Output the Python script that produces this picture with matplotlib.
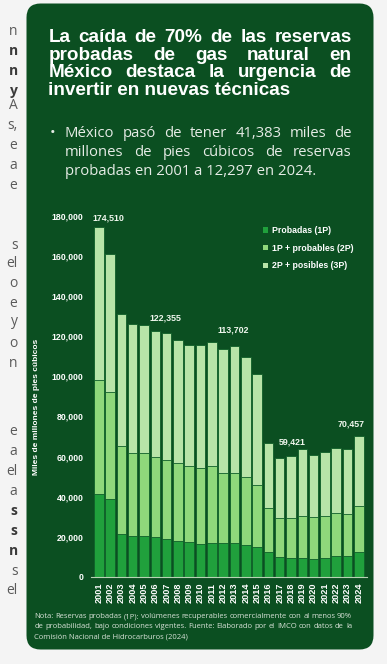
import matplotlib
matplotlib.use("Agg")
import matplotlib.pyplot as plt
from matplotlib.patches import FancyBboxPatch, Patch
from matplotlib.transforms import IdentityTransform

W, H = 387, 664

years = [str(y) for y in range(2001, 2025)]
# miles de millones de pies cubicos
p1 = [41383, 38800, 21400, 20600, 20200, 19700, 18700, 17900, 17400, 16400, 16900, 16900,
      16800, 16100, 14900, 12300, 10000, 9500, 9300, 8800, 9500, 10500, 10600, 12297]
p2 = [98000, 92000, 65400, 61900, 61600, 59700, 58200, 56700, 55400, 54300, 55400, 51900,
      51800, 49800, 45800, 34500, 29500, 29200, 30400, 30000, 30400, 32000, 31500, 35300]
p3 = [174510, 161100, 130900, 125900, 125600, 122355, 121600, 118300, 115800, 115800, 117000, 113702,
      115300, 109700, 101000, 67000, 59421, 60300, 63900, 60900, 62300, 64200, 64000, 70457]
series_names = ["Probadas (1P)", "1P + probables (2P)", "2P + posibles (3P)"]
label_years = ["2001", "2006", "2012", "2017", "2024"]
yticks = list(range(0, 180001, 20000))

title_lines = ["La caída de 70% de las reservas",
               "probadas de gas natural en",
               "México destaca la urgencia de",
               "invertir en nuevas técnicas"]
bullet_lines = ["México pasó de tener 41,383 miles de",
                "millones de pies cúbicos de reservas",
                "probadas en 2001 a 12,297 en 2024."]
note_lines = ["Nota: Reservas probadas (1P): volúmenes recuperables comercialmente con al menos 90%",
              "de probabilidad, bajo condiciones vigentes. Fuente: Elaborado por el IMCO con datos de la",
              "Comisión Nacional de Hidrocarburos (2024)"]
# bits of the neighbouring column that show at the left edge
side_bits = [(35, "n", 0), (55, "n", 1), (75, "n", 1), (95, "y", 1), (109, "A", 0), (129, "s,", 0),
             (149, "e", 0), (169, "a", 0), (189, "e", 0), (249, "s", 0), (267, "el", 0), (287, "o", 0),
             (307, "e", 0), (325, "y", 0), (347, "o", 0), (367, "n", 0), (435, "e", 0), (455, "a", 0),
             (475, "el", 0), (495, "a", 0), (515, "s", 1), (535, "s", 1), (555, "n", 1), (575, "s", 0),
             (594, "el", 0)]

BG = "#0b4f21"
C1, C2, C3 = "#20a03c", "#8fd87b", "#b8e4a8"
WHITE = "#ffffff"

fig = plt.figure(figsize=(W / 100, H / 100), dpi=100, facecolor="#f4f4f4")
renderer = fig.canvas.get_renderer()

card = FancyBboxPatch((26.5, 14.5), 347, 646, boxstyle="round,pad=0,rounding_size=14",
                      transform=IdentityTransform(), facecolor=BG, edgecolor="none", zorder=0)
fig.add_artist(card)


def fx(x):
    return x / W


def fy(y):
    return 1 - y / H


def fit_size(s, width, **kw):
    t = fig.text(0, 0, s, fontsize=10, **kw)
    w = t.get_window_extent(renderer).width
    t.remove()
    return 10 * width / w


def justified(words_line, x0, x1, y, justify=True, **kw):
    words = words_line.split(" ")
    if not justify:
        fig.text(fx(x0), fy(y), words_line, va="baseline", ha="left", **kw)
        return
    texts = [fig.text(0, fy(y), w, va="baseline", ha="left", **kw) for w in words]
    widths = [t.get_window_extent(renderer).width for t in texts]
    gap = (x1 - x0 - sum(widths)) / (len(words) - 1)
    x = x0
    for t, w in zip(texts, widths):
        t.set_x(fx(x))
        x += w + gap


title_kw = dict(fontweight="bold", color=WHITE, family="Liberation Sans")
ts = fit_size(title_lines[3], 243, **title_kw)
for i, line in enumerate(title_lines):
    justified(line, 48.3, 351.7, 41.7 + i * 17.8, justify=i < 3, fontsize=ts, **title_kw)

body_kw = dict(color="#e6ece6", family="Open Sans")
bs = fit_size(bullet_lines[2], 250, **body_kw)
fig.text(fx(50), fy(137.3), "•", fontsize=bs, va="baseline", **body_kw)
for i, line in enumerate(bullet_lines):
    justified(line, 65, 351.7, 137.3 + i * 19, justify=i < 2, fontsize=bs, **body_kw)

note_kw = dict(color="#d8e2d8", family="Open Sans")
ns = fit_size(note_lines[2], 156, **note_kw)
for i, line in enumerate(note_lines):
    justified(line, 34.3, 352, 618.5 + i * 10, justify=i < 2, fontsize=ns, **note_kw)

for y, s, b in side_bits:
    fig.text(fx(17.5), fy(y), s, ha="right", va="baseline", fontsize=10, family="Open Sans",
             fontweight="bold" if b else "normal", color="#3a3a3a" if b else "#5a5a5a")

# chart
ax = fig.add_axes([fx(90.9), fy(577), (366.7 - 90.9) / W, (577 - 215.7) / H])
ax.set_facecolor("none")
x = list(range(len(years)))
for vals, c in [(p3, C3), (p2, C2), (p1, C1)]:
    ax.bar(x, vals, width=0.84, color=c, edgecolor="#0e5e28", linewidth=0.6, zorder=2)

ax.set_xlim(-0.7, len(years) - 0.3)
ax.set_ylim(0, 180000)
ax.set_yticks(yticks)
ax.set_yticklabels([f"{v:,}" for v in yticks])
ax.set_xticks(x)
ax.set_xticklabels(years, rotation=90)
ax.tick_params(axis="y", length=0, pad=5.5, labelsize=6.3, labelcolor=WHITE)
ax.tick_params(axis="x", length=0, pad=4.3, labelsize=6.6, labelcolor=WHITE)
for lab in ax.get_xticklabels() + ax.get_yticklabels():
    lab.set_fontweight("bold")
    lab.set_family("Liberation Sans")
for s in ["top", "right", "left"]:
    ax.spines[s].set_visible(False)
ax.spines["bottom"].set_color("#b9d3b5")
ax.spines["bottom"].set_linewidth(0.8)

ax.set_ylabel("Miles de millones de pies cúbicos", fontsize=6.0, fontweight="bold",
              color=WHITE, family="Liberation Sans")
ax.yaxis.set_label_coords((40 - 90.9) / (366.7 - 90.9), (577 - 406.7) / (577 - 215.7))

# label offsets in px (dx, dy above bar top)
label_offsets = [(9.5, 9), (9.7, 13.4), (9.6, 18.3), (12.9, 16), (-7.5, 11.7)]
for yr, (dx, dy) in zip(label_years, label_offsets):
    i = years.index(yr)
    ax.annotate(f"{p3[i]:,}", xy=(i, p3[i]), xytext=(dx * 0.72, dy * 0.72),
                textcoords="offset points", ha="center", va="center", fontsize=6.4,
                fontweight="bold", color="#f0f7ee", family="Liberation Sans", clip_on=False)

handles = [Patch(facecolor=c, edgecolor="none") for c in (C1, C2, C3)]
leg = ax.legend(handles, series_names, loc="upper left", bbox_to_anchor=(fx(262.5), fy(226)),
                bbox_transform=fig.transFigure, frameon=False, fontsize=6.3,
                handlelength=0.6, handleheight=0.6, handletextpad=0.45, labelspacing=1.0,
                borderpad=0, borderaxespad=0)
for t in leg.get_texts():
    t.set_color(WHITE)
    t.set_fontweight("bold")
    t.set_family("Liberation Sans")

fig.savefig("out.png", dpi=100, facecolor=fig.get_facecolor())
